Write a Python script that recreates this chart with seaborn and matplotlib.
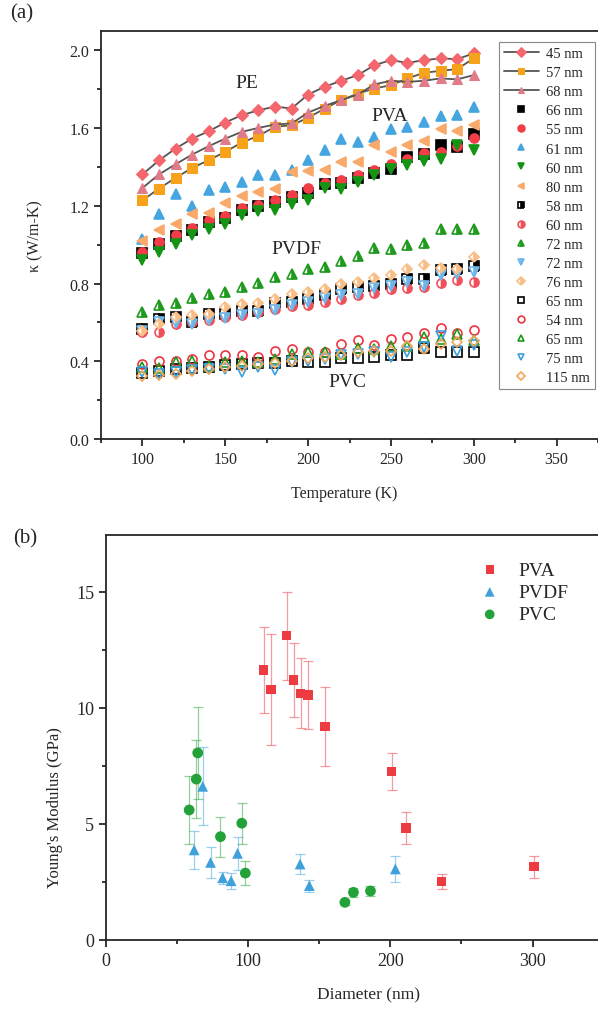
import numpy as np
import pandas as pd
import matplotlib.pyplot as plt
import seaborn as sns
from matplotlib.ticker import MultipleLocator, FormatStrFormatter

# (a) thermal conductivity vs temperature, 100..300 K
temp = list(range(100, 301, 10))

pe45 = [1.362, 1.434, 1.495, 1.546, 1.584, 1.629, 1.667, 1.692, 1.711, 1.701, 1.773, 1.813, 1.844, 1.873, 1.924, 1.950, 1.936, 1.950, 1.959, 1.955, 1.985]
pe57 = [1.228, 1.289, 1.344, 1.395, 1.435, 1.478, 1.526, 1.560, 1.607, 1.615, 1.653, 1.701, 1.744, 1.778, 1.804, 1.821, 1.856, 1.885, 1.895, 1.904, 1.959]
pe68 = [1.292, 1.362, 1.414, 1.464, 1.507, 1.546, 1.581, 1.601, 1.619, 1.624, 1.680, 1.715, 1.744, 1.773, 1.825, 1.844, 1.838, 1.844, 1.856, 1.851, 1.873]

pva66 = [0.955, 1.005, 1.045, 1.078, 1.117, 1.140, 1.178, 1.200, 1.220, 1.245, 1.268, 1.310, 1.320, 1.345, 1.370, 1.388, 1.452, 1.468, 1.515, 1.505, 1.572]
pva55 = [0.962, 1.014, 1.052, 1.086, 1.128, 1.150, 1.188, 1.203, 1.232, 1.254, 1.292, 1.320, 1.332, 1.357, 1.383, 1.418, 1.443, 1.474, 1.478, 1.509, 1.550]
pva61 = [1.031, 1.160, 1.263, 1.198, 1.284, 1.297, 1.323, 1.361, 1.361, 1.383, 1.435, 1.486, 1.543, 1.529, 1.555, 1.598, 1.607, 1.632, 1.663, 1.670, 1.710]
pva60 = [0.919, 0.962, 1.005, 1.052, 1.079, 1.108, 1.151, 1.172, 1.180, 1.211, 1.228, 1.292, 1.289, 1.323, 1.361, 1.388, 1.412, 1.430, 1.440, 1.512, 1.486]
pva80 = [1.020, 1.074, 1.106, 1.160, 1.165, 1.216, 1.249, 1.271, 1.285, 1.375, 1.378, 1.383, 1.426, 1.426, 1.515, 1.478, 1.515, 1.533, 1.598, 1.584, 1.615]

pvdf58 = [0.567, 0.619, 0.627, 0.601, 0.644, 0.644, 0.661, 0.661, 0.700, 0.704, 0.722, 0.739, 0.773, 0.782, 0.790, 0.799, 0.825, 0.825, 0.868, 0.873, 0.893]
pvdf60 = [0.550, 0.550, 0.593, 0.601, 0.610, 0.627, 0.636, 0.656, 0.670, 0.687, 0.691, 0.704, 0.722, 0.739, 0.753, 0.770, 0.777, 0.782, 0.804, 0.816, 0.808]
pvdf72a = [0.656, 0.691, 0.701, 0.725, 0.747, 0.759, 0.782, 0.804, 0.835, 0.851, 0.876, 0.885, 0.914, 0.942, 0.983, 0.979, 1.000, 1.008, 1.082, 1.082, 1.082]
pvdf72b = [0.558, 0.601, 0.598, 0.593, 0.615, 0.622, 0.639, 0.644, 0.665, 0.691, 0.704, 0.725, 0.739, 0.747, 0.777, 0.790, 0.808, 0.787, 0.845, 0.851, 0.862]
pvdf76 = [0.558, 0.593, 0.627, 0.636, 0.644, 0.679, 0.696, 0.701, 0.720, 0.747, 0.759, 0.773, 0.799, 0.808, 0.828, 0.845, 0.876, 0.897, 0.880, 0.876, 0.936]

pvc65a = [0.340, 0.350, 0.360, 0.365, 0.370, 0.380, 0.385, 0.390, 0.390, 0.404, 0.398, 0.395, 0.416, 0.416, 0.421, 0.433, 0.430, 0.467, 0.447, 0.447, 0.447]
pvc54 = [0.387, 0.399, 0.404, 0.412, 0.433, 0.430, 0.430, 0.421, 0.452, 0.464, 0.447, 0.447, 0.490, 0.512, 0.485, 0.515, 0.524, 0.546, 0.570, 0.546, 0.562]
pvc65b = [0.370, 0.365, 0.395, 0.404, 0.378, 0.395, 0.404, 0.395, 0.412, 0.438, 0.447, 0.447, 0.438, 0.467, 0.464, 0.478, 0.481, 0.524, 0.515, 0.541, 0.512]
pvc75 = [0.344, 0.335, 0.344, 0.357, 0.361, 0.361, 0.347, 0.369, 0.356, 0.395, 0.404, 0.412, 0.430, 0.438, 0.447, 0.421, 0.447, 0.473, 0.529, 0.455, 0.485]
pvc115 = [0.326, 0.330, 0.335, 0.352, 0.361, 0.369, 0.378, 0.387, 0.391, 0.404, 0.416, 0.421, 0.430, 0.450, 0.455, 0.455, 0.481, 0.464, 0.490, 0.498, 0.502]

# (b) Young's modulus vs diameter
pva_d = [111, 116, 127, 132, 137, 142, 154, 201, 211, 236, 301]
pva_e = [11.62, 10.78, 13.10, 11.19, 10.62, 10.55, 9.18, 7.26, 4.81, 2.50, 3.15]
pva_err = [1.85, 2.38, 1.90, 1.60, 1.50, 1.45, 1.70, 0.80, 0.70, 0.32, 0.47]

pvdf_d = [62, 68, 73.5, 82, 88, 92.5, 136.5, 143, 203.5]
pvdf_e = [3.87, 6.61, 3.33, 2.67, 2.54, 3.72, 3.26, 2.33, 3.05]
pvdf_err = [0.83, 1.68, 0.65, 0.26, 0.35, 0.70, 0.43, 0.26, 0.57]

pvc_d = [58.5, 63.5, 64.5, 80.5, 95.5, 98, 168, 174, 186]
pvc_e = [5.59, 6.92, 8.05, 4.44, 5.02, 2.87, 1.61, 2.04, 2.10]
pvc_err = [1.48, 1.67, 1.97, 0.86, 0.88, 0.50, 0.10, 0.20, 0.20]

sns.set_theme(style='ticks')
plt.rcParams['font.family'] = ['Liberation Serif', 'DejaVu Serif']
plt.rcParams['axes.linewidth'] = 1.3

fig = plt.figure(figsize=(5.98, 10.12), dpi=100)
ax1 = fig.add_axes([101 / 598, 1 - 440 / 1012, 497 / 598, 408 / 1012])
ax2 = fig.add_axes([106 / 598, 1 - 940.7 / 1012, 492 / 598, 404.7 / 1012])

# top panel
lines = [('45 nm', pe45, 'D', '#F4676E'),
         ('57 nm', pe57, 's', '#F7A21B'),
         ('68 nm', pe68, '^', '#E07B8A')]
for lab, vals, m, c in lines:
    sns.lineplot(x=temp, y=vals, ax=ax1, color='#555555', lw=1.3, marker=m,
                 markersize=6.5, markerfacecolor=c, markeredgecolor=c, label=lab)

points = [('66 nm', pva66, 's', '#000000', 'full'),
          ('55 nm', pva55, 'o', '#F23D46', 'full'),
          ('61 nm', pva61, '^', '#45A5E0', 'full'),
          ('60 nm', pva60, 'v', '#149414', 'full'),
          ('80 nm', pva80, '<', '#F9A96A', 'full'),
          ('58 nm', pvdf58, 's', '#000000', 'right'),
          ('60 nm', pvdf60, 'o', '#F0505A', 'right'),
          ('72 nm', pvdf72a, '^', '#1E9A1E', 'right'),
          ('72 nm', pvdf72b, 'v', '#6CB6EA', 'right'),
          ('76 nm', pvdf76, 'D', '#F9BD86', 'right'),
          ('65 nm', pvc65a, 's', '#000000', 'none'),
          ('54 nm', pvc54, 'o', '#EE3440', 'none'),
          ('65 nm', pvc65b, '^', '#1A9A1A', 'none'),
          ('75 nm', pvc75, 'v', '#3AA0E0', 'none'),
          ('115 nm', pvc115, 'D', '#F4A95A', 'none')]
for lab, vals, m, c, fill in points:
    face = 'none' if fill == 'none' else c
    sns.lineplot(x=temp, y=vals, ax=ax1, linestyle='', marker=m, color=c,
                 markersize=6.5 if m != 'D' else 5.5, fillstyle='full' if fill == 'none' else fill,
                 markerfacecolor=face, markerfacecoloralt='white',
                 markeredgecolor=c, markeredgewidth=1.2, label=lab)

ax1.text(163, 1.835, 'PE', fontsize=14, ha='center', va='center')
ax1.text(249, 1.667, 'PVA', fontsize=14, ha='center', va='center')
ax1.text(193, 0.979, 'PVDF', fontsize=14, ha='center', va='center')
ax1.text(224, 0.295, 'PVC', fontsize=14, ha='center', va='center')

ax1.set_xlim(75, 375)
ax1.set_ylim(0, 2.1)
ax1.xaxis.set_minor_locator(MultipleLocator(25))
ax1.yaxis.set_major_locator(MultipleLocator(0.4))
ax1.yaxis.set_minor_locator(MultipleLocator(0.2))
ax1.yaxis.set_major_formatter(FormatStrFormatter('%.1f'))
ax1.set_xticks([100, 150, 200, 250, 300, 350])
ax1.tick_params(which='major', direction='out', length=5, width=1.1, labelsize=11.5, color='black')
ax1.tick_params(which='minor', direction='out', length=3, width=1.1, color='black')
ax1.spines['right'].set_visible(False)
ax1.set_xlabel('Temperature (K)', fontsize=11.5)
ax1.set_ylabel('κ (W/m-K)', fontsize=11.5)
ax1.xaxis.set_label_coords(0.49, -0.112)
ax1.yaxis.set_label_coords(-0.115, 0.5)

leg = ax1.legend(loc='upper right', bbox_to_anchor=(0.994, 0.973), borderaxespad=0,
                 fontsize=10.5, frameon=True, fancybox=False, edgecolor='#888888',
                 framealpha=1, labelspacing=0.4, handlelength=2.4, handletextpad=0.5,
                 borderpad=0.35, markerscale=0.75)
leg.get_frame().set_linewidth(0.8)

# bottom panel
groups = [('PVA', pva_d, pva_e, pva_err, 's', '#EE3B42', 45),
          ('PVDF', pvdf_d, pvdf_e, pvdf_err, '^', '#3FA0DC', 60),
          ('PVC', pvc_d, pvc_e, pvc_err, 'o', '#24A23A', 60)]
for lab, d, e, err, m, c, s in groups:
    ax2.errorbar(d, e, yerr=err, fmt='none', ecolor=c, alpha=0.5, elinewidth=0.9,
                 capsize=3.5, capthick=0.9)
    sns.scatterplot(x=d, y=e, ax=ax2, marker=m, color=c, s=s, edgecolor='none',
                    label=lab, zorder=3)

ax2.set_xlim(0, 346)
ax2.set_ylim(0, 17.44)
ax2.set_xticks([0, 100, 200, 300])
ax2.xaxis.set_minor_locator(MultipleLocator(50))
ax2.set_yticks([0, 5, 10, 15])
ax2.yaxis.set_minor_locator(MultipleLocator(2.5))
ax2.tick_params(which='major', direction='out', length=5, width=1.1, labelsize=13, color='black')
ax2.tick_params(which='minor', direction='out', length=3, width=1.1, color='black')
ax2.spines['right'].set_visible(False)
ax2.set_xlabel('Diameter (nm)', fontsize=12.5)
ax2.set_ylabel("Young's Modulus (GPa)", fontsize=12)
ax2.xaxis.set_label_coords(0.533, -0.115)
ax2.yaxis.set_label_coords(-0.087, 0.33)

ax2.legend(loc='upper left', bbox_to_anchor=((480 - 106) / 492, 0.936), borderaxespad=0,
           borderpad=0, frameon=False, fontsize=14, handlelength=1.0, handletextpad=1.0,
           labelspacing=0.25, markerscale=0.9)

fig.text(10 / 598, 1 - 4 / 1012, '(a)', fontsize=15, va='top', ha='left')
fig.text(13 / 598, 1 - 529 / 1012, '(b)', fontsize=15, va='top', ha='left')

fig.savefig('out.png', dpi=100)
